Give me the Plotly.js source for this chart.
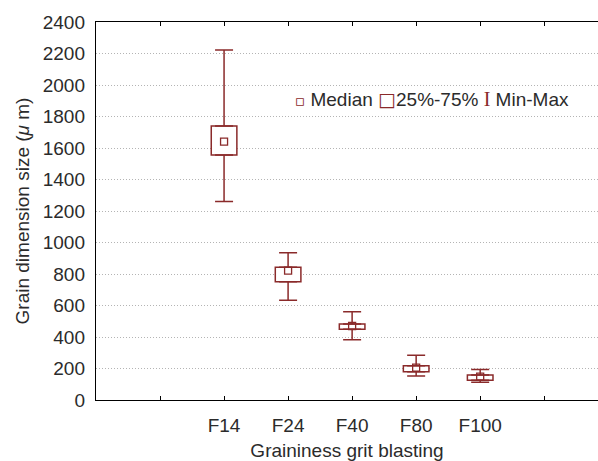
<!DOCTYPE html>
<html>
<head>
<meta charset="utf-8">
<script src="https://cdn.plot.ly/plotly-3.0.1.min.js"></script>
<style>html,body{margin:0;padding:0;background:#fff;}#chart{width:598px;height:461px;}</style>
</head>
<body>
<div id="chart"></div>
<script>
// Data
var categories = ['F14', 'F24', 'F40', 'F80', 'F100'];
var minVals    = [1260, 633, 383, 152, 112];
var q1Vals     = [1556, 751, 449, 180, 125];
var medianVals = [1640, 821, 470, 205, 148];
var q3Vals     = [1740, 843, 483, 218, 159];
var maxVals    = [2222, 935, 561, 284, 193];
var yTickVals  = [0, 200, 400, 600, 800, 1000, 1200, 1400, 1600, 1800, 2000, 2200, 2400];

var xPos = categories.map(function (c, i) { return i; });
var boxColor = '#8a2a2a';
var textColor = '#2b2b2b';
var fontFam = '"Liberation Sans", Arial, sans-serif';

var xTickVals = [-1].concat(xPos, [5, 6]);
var xTickText = [''].concat(categories, ['', '']);

var traces = [
  { // 25%-75% box
    type: 'bar',
    x: xPos,
    base: q1Vals,
    y: q3Vals.map(function (v, i) { return v - q1Vals[i]; }),
    width: 0.4,
    marker: { color: '#ffffff', line: { color: boxColor, width: 1.5 } },
    showlegend: false,
    hoverinfo: 'skip'
  },
  { // upper whisker (q3 -> max)
    type: 'scatter',
    mode: 'markers',
    x: xPos,
    y: q3Vals,
    marker: { size: 1, opacity: 0 },
    error_y: {
      type: 'data', symmetric: false,
      array: maxVals.map(function (v, i) { return v - q3Vals[i]; }),
      arrayminus: q3Vals.map(function () { return 0; }),
      width: 9, thickness: 1.5, color: boxColor
    },
    showlegend: false,
    hoverinfo: 'skip'
  },
  { // lower whisker (min -> q1)
    type: 'scatter',
    mode: 'markers',
    x: xPos,
    y: q1Vals,
    marker: { size: 1, opacity: 0 },
    error_y: {
      type: 'data', symmetric: false,
      array: q1Vals.map(function () { return 0; }),
      arrayminus: q1Vals.map(function (v, i) { return v - minVals[i]; }),
      width: 9, thickness: 1.5, color: boxColor
    },
    showlegend: false,
    hoverinfo: 'skip'
  },
  { // median
    type: 'scatter',
    mode: 'markers',
    x: xPos,
    y: medianVals,
    marker: { symbol: 'square-open', size: 7, color: boxColor, line: { width: 1.3, color: boxColor } },
    showlegend: false,
    hoverinfo: 'skip'
  }
];

var legendText =
  '<span style="color:' + boxColor + ';font-family:DejaVu Sans;font-size:15px">\u25AB</span> Median ' +
  '<span style="color:' + boxColor + ';font-family:DejaVu Sans;font-size:19px">\u25A1</span>25%-75% ' +
  '<span style="color:' + boxColor + ';font-family:Liberation Serif;font-size:20px">I</span> Min-Max';

var layout = {
  width: 598,
  height: 461,
  margin: { l: 96, r: 0, t: 22, b: 61, pad: 0 },
  paper_bgcolor: '#ffffff',
  plot_bgcolor: '#ffffff',
  font: { family: fontFam, size: 19, color: textColor },
  showlegend: false,
  xaxis: {
    range: [-2, 5.84],
    tickmode: 'array',
    tickvals: xTickVals,
    ticktext: xTickText,
    ticks: 'inside',
    ticklen: 4,
    tickcolor: '#000',
    tickwidth: 1,
    showline: true,
    linecolor: '#000',
    linewidth: 1.2,
    mirror: 'ticks',
    showgrid: false,
    zeroline: false,
    ticklabelstandoff: 8,
    tickfont: { size: 19, color: textColor, family: fontFam },
    title: { text: 'Graininess grit blasting', font: { size: 19, color: textColor, family: fontFam }, standoff: 10 }
  },
  yaxis: {
    range: [0, 2400],
    tickmode: 'array',
    tickvals: yTickVals,
    ticks: '',
    showline: true,
    linecolor: '#000',
    linewidth: 1.2,
    mirror: false,
    showgrid: true,
    gridcolor: '#b4b4b4',
    griddash: '1px,2px',
    gridwidth: 1,
    zeroline: false,
    ticklabelstandoff: 6,
    tickfont: { size: 19, color: textColor, family: fontFam },
    title: { text: 'Grain dimension size (<i>\u03BC</i> m)', font: { size: 19, color: textColor, family: fontFam }, standoff: 8 }
  },
  annotations: [{
    xref: 'paper', yref: 'paper',
    x: 0.393, y: 0.796,
    xanchor: 'left', yanchor: 'middle',
    showarrow: false,
    text: legendText,
    font: { size: 19, color: textColor, family: fontFam }
  }]
};

Plotly.newPlot('chart', traces, layout, { displayModeBar: false, staticPlot: true });
</script>
</body>
</html>
